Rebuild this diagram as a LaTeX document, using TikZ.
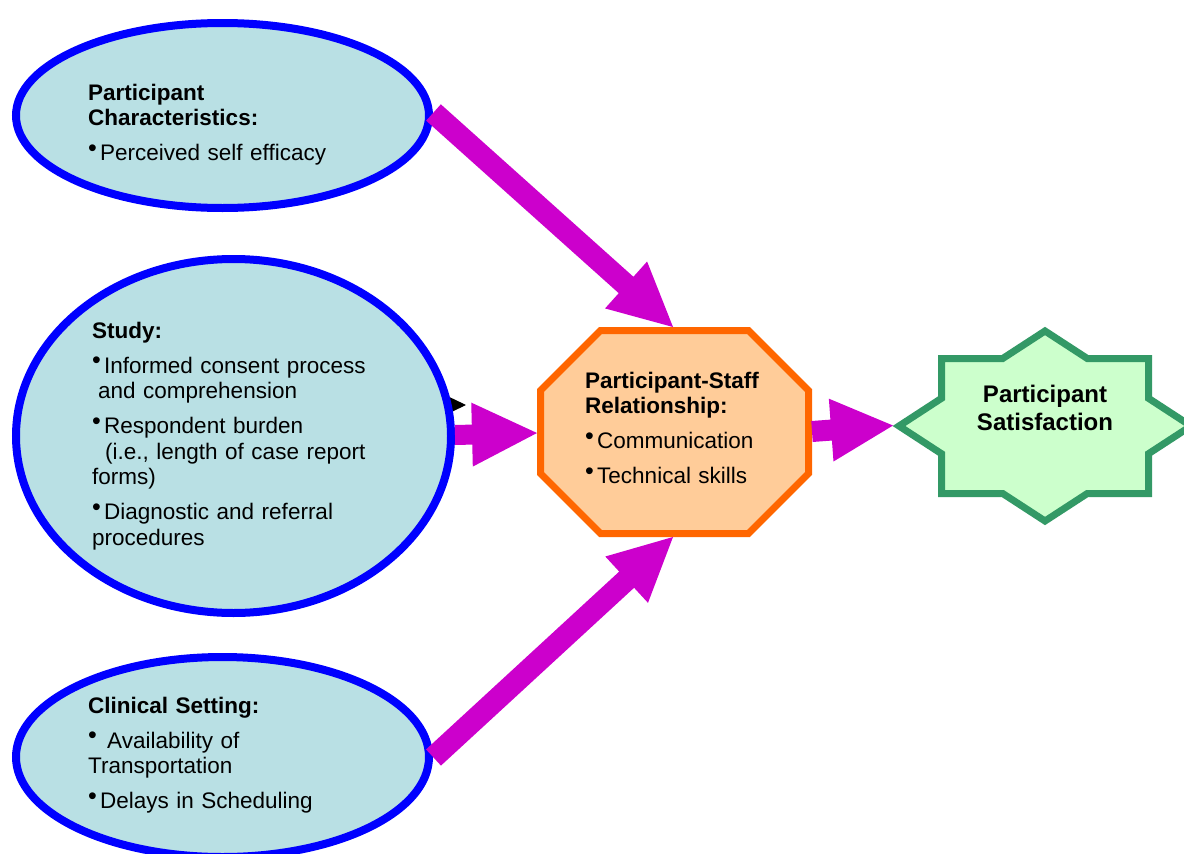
\documentclass[tikz,border=0pt]{standalone}
\usepackage{fontspec}
\setmainfont{Liberation Sans}
\usetikzlibrary{shapes.geometric,calc,arrows.meta}

\definecolor{eblue}{RGB}{0,0,255}
\definecolor{efill}{RGB}{185,224,228}
\definecolor{amag}{RGB}{204,0,204}
\definecolor{oline}{RGB}{255,102,0}
\definecolor{ofill}{RGB}{255,204,153}
\definecolor{sline}{RGB}{51,153,102}
\definecolor{sfill}{RGB}{204,255,204}

% raised bullet in front of list items
\newcommand{\blt}{\makebox[12pt][l]{\raisebox{4.5pt}{\fontsize{25pt}{25pt}\selectfont •}}}

% block arrow: #1 tail, #2 tip, #3 shaft half width, #4 head half width, #5 head length
\newcommand{\blockarrow}[5]{%
  \coordinate (ba-base) at ($(#2)!#5!(#1)$);
  \fill[arrowfill] ($(#1)!#3!90:(#2)$) -- ($(ba-base)!#3!90:(#2)$)
    -- ($(ba-base)!#4!90:(#2)$) -- (#2) -- ($(ba-base)!#4!-90:(#2)$)
    -- ($(ba-base)!#3!-90:(#2)$) -- ($(#1)!#3!-90:(#2)$) -- cycle;}

\tikzset{
  factor/.style={ellipse, draw=eblue, fill=efill, line width=8pt, inner sep=0pt},
  blocktxt/.style={anchor=base west, inner sep=0pt, text width=300pt, align=left,
    font=\fontsize{22.5pt}{25.5pt}\selectfont},
  octo/.style={draw=oline, fill=ofill, line width=7pt, line join=miter},
  starshape/.style={draw=sline, fill=sfill, line width=7pt, line join=miter},
  arrowfill/.style={fill=amag},
}

\begin{document}
\begin{tikzpicture}[x=1pt,y=-1pt]
\useasboundingbox (0,0) rectangle (1184,854);

% stray connector whose tip peeks out from behind the study ellipse
\coordinate (stray) at (466,405);
\draw[black, line width=1pt, -{Triangle[length=20pt,width=19pt]}] (330,405) -- (stray);

% the three influencing factors
\node[factor, minimum width=413pt, minimum height=185pt] (chars) at (222.5,115.5) {};
\node[factor, minimum width=435pt, minimum height=354pt] (study) at (233.5,436) {};
\node[factor, minimum width=413pt, minimum height=200pt] (clin) at (222.5,757) {};

\node[blocktxt] (charstxt) at (88,100)
  {{\bfseries Participant\\ Characteristics:}\\[9.5pt]
   \blt Perceived self efficacy};

\node[blocktxt] (studytxt) at (92,338)
  {\textbf{Study:}\\[9.5pt]
   \blt Informed consent process\\
   \hspace*{6pt}and comprehension\\[9.5pt]
   \blt Respondent burden\\
   \hspace*{13pt}(i.e., length of case report\\
   forms)\\[9.5pt]
   \blt Diagnostic and referral\\
   procedures};

\node[blocktxt] (clintxt) at (88,713)
  {\textbf{Clinical Setting:}\\[9.5pt]
   \blt\hspace{7pt}Availability of\\
   Transportation\\[9.5pt]
   \blt Delays in Scheduling};

% participant-staff relationship (octagon)
\coordinate (psr) at (674.5,432);
\draw[octo, shift={(psr)}] (-134,-41.5) -- (-74,-101.5) -- (74,-101.5) -- (134,-41.5)
  -- (134,41.5) -- (74,101.5) -- (-74,101.5) -- (-134,41.5) -- cycle;
\node[blocktxt] (psrtxt) at (585,388)
  {{\bfseries Participant-Staff\\ Relationship:}\\[9.5pt]
   \blt Communication\\[9.5pt]
   \blt Technical skills};

% participant satisfaction (eight-point star)
\coordinate (sat) at (1045,426);
\draw[starshape, shift={(sat)}] (-146,0) -- (-103.5,-27.7) -- (-103.5,-67.5) -- (-42.3,-67.5)
  -- (0,-95) -- (42.3,-67.5) -- (103.5,-67.5) -- (103.5,-27.7) -- (146,0)
  -- (103.5,27.7) -- (103.5,67.5) -- (42.3,67.5) -- (0,95) -- (-42.3,67.5)
  -- (-103.5,67.5) -- (-103.5,27.7) -- cycle;
\node[anchor=base, inner sep=0pt, text width=220pt, align=center,
  font=\fontsize{24pt}{28pt}\selectfont\bfseries] (sattxt) at (1045,402)
  {Participant\\ Satisfaction};

% block arrows
\coordinate (a1s) at (433.5,112.5);
\coordinate (a1e) at (673,327);
\coordinate (a2s) at (455,435);
\coordinate (a2e) at (537,433);
\coordinate (a3s) at (433.5,757.5);
\coordinate (a3e) at (673,537);
\coordinate (a4s) at (812,431.5);
\coordinate (a4e) at (893,425.5);

\blockarrow{a1s}{a1e}{11pt}{31.5pt}{63pt}
\blockarrow{a2s}{a2e}{10pt}{32pt}{65pt}
\blockarrow{a3s}{a3e}{11pt}{31.5pt}{63pt}
\blockarrow{a4s}{a4e}{10.5pt}{31.5pt}{62pt}
\end{tikzpicture}
\end{document}
